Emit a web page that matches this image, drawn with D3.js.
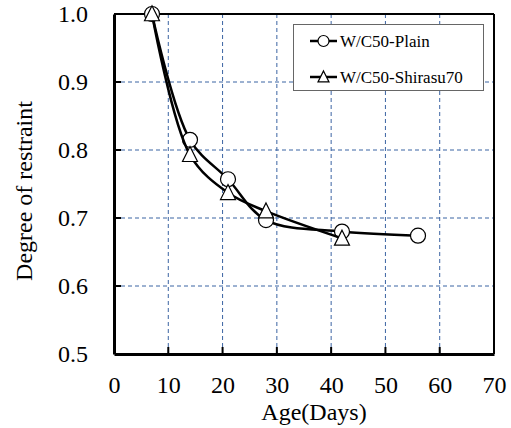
<!DOCTYPE html>
<html><head><meta charset="utf-8">
<script src="https://cdn.jsdelivr.net/npm/d3@7"></script>
<style>body{margin:0;background:#fff}svg{display:block}</style>
</head><body>
<svg id="c" width="511" height="428"></svg>
<script>
const plainDays = [7, 14, 21, 28, 42, 56];
const plainValues = [1.0, 0.815, 0.757, 0.697, 0.680, 0.674];
const shirasuDays = [7, 14, 21, 28, 42];
const shirasuValues = [1.0, 0.793, 0.737, 0.710, 0.670];
const xTicks = [0, 10, 20, 30, 40, 50, 60, 70];
const yTicks = [0.5, 0.6, 0.7, 0.8, 0.9, 1.0];
const seriesNames = ["W/C50-Plain", "W/C50-Shirasu70"];
const xTitle = "Age(Days)";
const yTitle = "Degree of restraint";

const svg = d3.select("#c");
const L = 114, R = 494, T = 14, B = 354;
const x = d3.scaleLinear().domain([0, 70]).range([L, R]);
const y = d3.scaleLinear().domain([0.5, 1.0]).range([B, T]);
const font = "'Liberation Serif','Times New Roman',serif";
const gridColor = "#3b64a3";

// grid
svg.append("g").selectAll("line").data(xTicks.slice(1, -1)).join("line")
  .attr("x1", d => x(d)).attr("x2", d => x(d)).attr("y1", T).attr("y2", B)
  .attr("stroke", gridColor).attr("stroke-width", 1).attr("stroke-dasharray", "4,3");
svg.append("g").selectAll("line").data(yTicks.slice(1, -1)).join("line")
  .attr("y1", d => y(d)).attr("y2", d => y(d)).attr("x1", L).attr("x2", R)
  .attr("stroke", gridColor).attr("stroke-width", 1).attr("stroke-dasharray", "4,3");

// frame top/right
svg.append("line").attr("x1", L).attr("x2", R).attr("y1", T).attr("y2", T).attr("stroke", "#000").attr("stroke-width", 2);
svg.append("line").attr("x1", R).attr("x2", R).attr("y1", T).attr("y2", B).attr("stroke", "#000").attr("stroke-width", 2);

// axes
const xAxis = d3.axisBottom(x).tickValues(xTicks).tickSize(0).tickPadding(22).tickFormat(d3.format("d"));
const gx = svg.append("g").attr("transform", `translate(0,${B})`).call(xAxis);
gx.select(".domain").attr("stroke", "#000").attr("stroke-width", 3);
gx.selectAll("text").attr("font-family", font).attr("font-size", 24).attr("fill", "#000");
const yAxis = d3.axisLeft(y).tickValues(yTicks).tickSize(0).tickPadding(26).tickFormat(d3.format(".1f"));
const gy = svg.append("g").attr("transform", `translate(${L},0)`).call(yAxis);
gy.select(".domain").attr("stroke", "#000").attr("stroke-width", 3);
gy.selectAll("text").attr("font-family", font).attr("font-size", 24).attr("fill", "#000");
// inward tick marks
svg.append("g").selectAll("line").data(xTicks.slice(1, -1)).join("line")
  .attr("x1", d => x(d)).attr("x2", d => x(d)).attr("y1", B).attr("y2", B - 7)
  .attr("stroke", "#000").attr("stroke-width", 2);
svg.append("g").selectAll("line").data(yTicks.slice(1, -1)).join("line")
  .attr("y1", d => y(d)).attr("y2", d => y(d)).attr("x1", L).attr("x2", L + 7)
  .attr("stroke", "#000").attr("stroke-width", 2);

// titles
svg.append("text").attr("x", 314).attr("y", 420).attr("text-anchor", "middle")
  .attr("font-family", font).attr("font-size", 24).text(xTitle);
svg.append("text").attr("transform", `translate(32,${(T + B) / 2 + 7}) rotate(-90)`).attr("text-anchor", "middle")
  .attr("font-family", font).attr("font-size", 24).text(yTitle);

const line = d3.line().x(d => x(d[0])).y(d => y(d[1])).curve(d3.curveCatmullRom.alpha(0.5));
const tri = (cx, cy, s) => `M${cx},${cy - s * 0.55}L${cx + s / 2},${cy + s * 0.45}L${cx - s / 2},${cy + s * 0.45}Z`;

const plain = plainDays.map((d, i) => [d, plainValues[i]]);
const shir = shirasuDays.map((d, i) => [d, shirasuValues[i]]);

svg.append("path").datum(plain).attr("d", line).attr("fill", "none").attr("stroke", "#000").attr("stroke-width", 2.5);
svg.append("g").selectAll("circle").data(plain).join("circle")
  .attr("cx", d => x(d[0])).attr("cy", d => y(d[1])).attr("r", 7.5)
  .attr("fill", "#fff").attr("stroke", "#000").attr("stroke-width", 1.2);
svg.append("path").datum(shir).attr("d", line).attr("fill", "none").attr("stroke", "#000").attr("stroke-width", 2.5);
svg.append("g").selectAll("path").data(shir).join("path")
  .attr("d", d => tri(x(d[0]), y(d[1]), 15))
  .attr("fill", "#fff").attr("stroke", "#000").attr("stroke-width", 1.2);

// legend
const lg = svg.append("g");
lg.append("rect").attr("x", 293.5).attr("y", 24.5).attr("width", 190).attr("height", 66)
  .attr("fill", "#fff").attr("stroke", "#666").attr("stroke-width", 1);
const rows = [41, 77];
seriesNames.forEach((name, i) => {
  const cy = rows[i];
  lg.append("line").attr("x1", 310).attr("x2", 337).attr("y1", cy).attr("y2", cy).attr("stroke", "#000").attr("stroke-width", 2.5);
  if (i === 0) lg.append("circle").attr("cx", 323.5).attr("cy", cy).attr("r", 5.5).attr("fill", "#fff").attr("stroke", "#000").attr("stroke-width", 1.2);
  else lg.append("path").attr("d", tri(323.5, cy, 11)).attr("fill", "#fff").attr("stroke", "#000").attr("stroke-width", 1.2);
  lg.append("text").attr("x", 340).attr("y", cy + 6).attr("font-family", font).attr("font-size", 17).text(name);
});
</script>
</body></html>
